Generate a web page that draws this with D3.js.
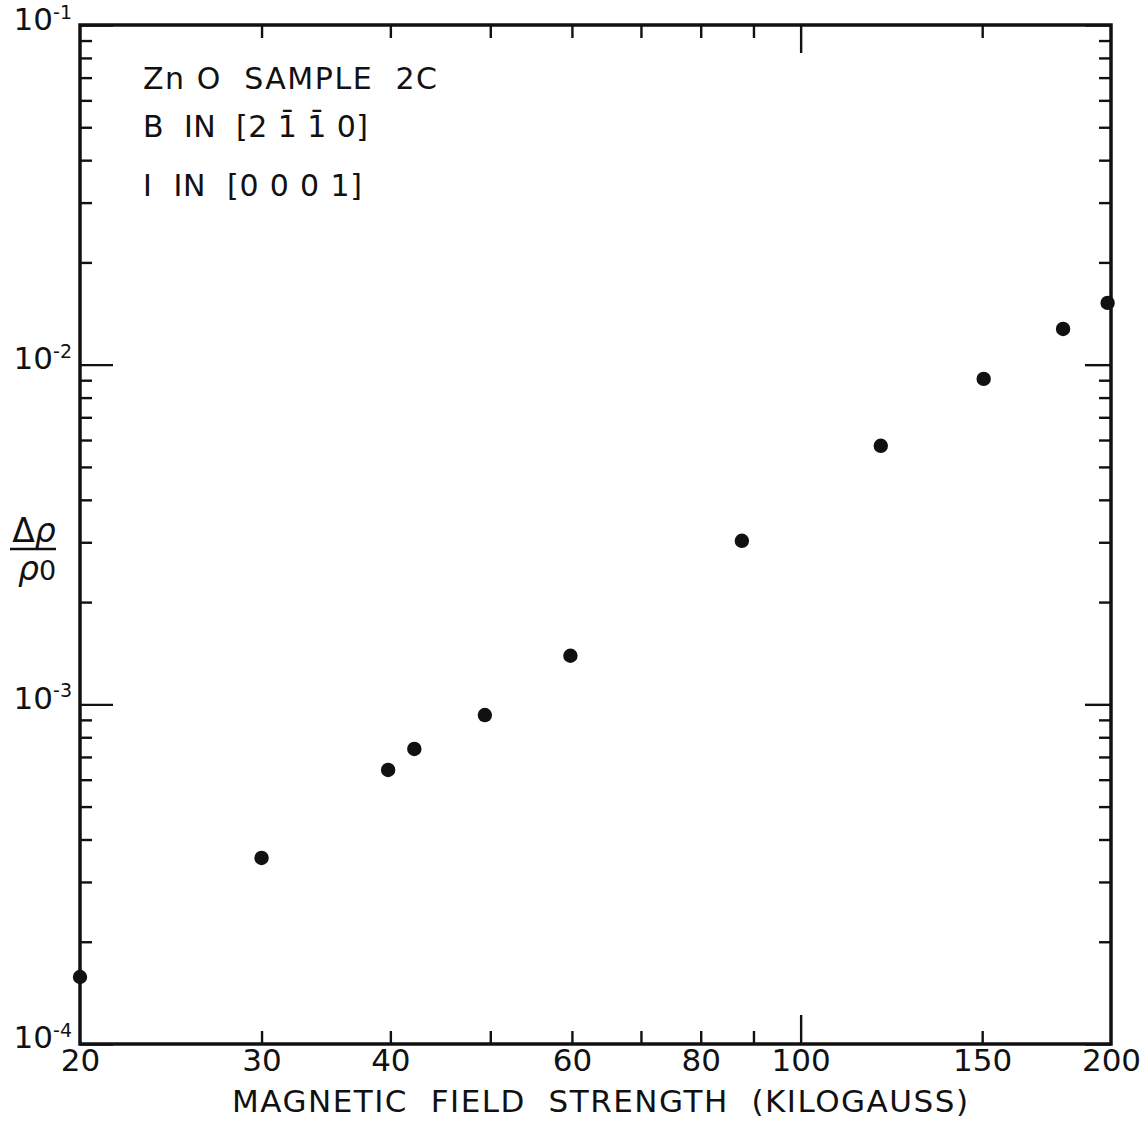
<!DOCTYPE html>
<html>
<head>
<meta charset="utf-8">
<script src="https://cdn.jsdelivr.net/npm/d3@7"></script>
<style>
  body { margin: 0; background: #fff; }
  svg text { font-family: "DejaVu Sans", sans-serif; fill: #111; }
</style>
</head>
<body>
<div id="chart"></div>
<script>
// field strength (kilogauss) and magnetoresistance dRho/Rho0
const fieldKG = [20, 30, 39.8, 42.2, 49.4, 59.8, 87.7, 119.6, 150.5, 179.7, 198.5];
const dRhoOverRho = [1.575e-4, 3.53e-4, 6.41e-4, 7.39e-4, 9.3e-4, 1.39e-3, 3.03e-3, 5.77e-3, 9.08e-3, 1.274e-2, 1.52e-2];

const xMajorTicks = [100];
const xMinorTicks = [30, 40, 50, 60, 70, 80, 90, 150];
const xTickLabels = [20, 30, 40, 60, 80, 100, 150, 200];
const yMajorTicks = [1e-4, 1e-3, 1e-2, 1e-1];
const yMinorTicks = [];
[1e-4, 1e-3, 1e-2].forEach(d => { for (let k = 2; k <= 9; k++) yMinorTicks.push(d * k); });

const annotation = [
  { text: "Zn O  SAMPLE  2C", len: 294 },
  { text: "B  IN  [2 1\u0304 1\u0304 0]", len: 225 },
  { text: "I  IN  [0 0 0 1]", len: 219 }
];

const width = 1142;
const height = 1130;
const mLeft = 80, mRight = 1111, mTop = 25, mBottom = 1044;

const svg = d3.select("#chart").append("svg")
  .attr("width", width)
  .attr("height", height);

const x = d3.scaleLog().domain([20, 200]).range([mLeft, mRight]);
const y = d3.scaleLog().domain([1e-4, 1e-1]).range([mBottom, mTop]);

const clean = g => {
  g.select(".domain").remove();
  g.selectAll("line").attr("stroke", "#111").attr("stroke-width", 2.4);
};

// bottom ticks (inward)
svg.append("g").attr("transform", `translate(0,${mBottom})`)
  .call(d3.axisBottom(x).tickValues(xMinorTicks).tickSize(-13).tickFormat(""))
  .call(clean);
svg.append("g").attr("transform", `translate(0,${mBottom})`)
  .call(d3.axisBottom(x).tickValues(xMajorTicks).tickSize(-29).tickFormat(""))
  .call(clean);
// top ticks (inward)
svg.append("g").attr("transform", `translate(0,${mTop})`)
  .call(d3.axisTop(x).tickValues(xMinorTicks).tickSize(-13).tickFormat(""))
  .call(clean);
svg.append("g").attr("transform", `translate(0,${mTop})`)
  .call(d3.axisTop(x).tickValues(xMajorTicks).tickSize(-28).tickFormat(""))
  .call(clean);

// bottom tick labels
svg.append("g").attr("transform", `translate(0,${mBottom})`)
  .call(d3.axisBottom(x).tickValues(xTickLabels).tickSize(0).tickPadding(5).tickFormat(d => d))
  .call(g => g.select(".domain").remove())
  .selectAll("text")
  .style("font-size", "31px")
  .attr("fill", "#111");

// left / right ticks (inward)
svg.append("g").attr("transform", `translate(${mLeft},0)`)
  .call(d3.axisLeft(y).tickValues(yMinorTicks).tickSize(-12).tickFormat(""))
  .call(clean);
svg.append("g").attr("transform", `translate(${mLeft},0)`)
  .call(d3.axisLeft(y).tickValues(yMajorTicks).tickSize(-33).tickFormat(""))
  .call(clean);
svg.append("g").attr("transform", `translate(${mRight},0)`)
  .call(d3.axisRight(y).tickValues(yMinorTicks).tickSize(-12).tickFormat(""))
  .call(clean);
svg.append("g").attr("transform", `translate(${mRight},0)`)
  .call(d3.axisRight(y).tickValues(yMajorTicks).tickSize(-26).tickFormat(""))
  .call(clean);

// left labels 10^-n
const yLab = svg.append("g").attr("transform", `translate(${mLeft},0)`)
  .call(d3.axisLeft(y).tickValues(yMajorTicks).tickSize(0).tickPadding(8).tickFormat(""))
  .call(g => g.select(".domain").remove());
yLab.selectAll("text")
  .attr("fill", "#111")
  .attr("dy", d => d === 1e-1 ? "0.45em" : "0.38em")
  .each(function (d) {
    const t = d3.select(this);
    t.append("tspan").style("font-size", "31px").text("10");
    t.append("tspan").style("font-size", "19px").attr("dy", "-0.6em")
      .text("-" + Math.round(-Math.log10(d)));
  });

// frame
svg.append("rect")
  .attr("x", mLeft).attr("y", mTop)
  .attr("width", mRight - mLeft).attr("height", mBottom - mTop)
  .attr("fill", "none").attr("stroke", "#111").attr("stroke-width", 3.5);

// points
svg.append("g").selectAll("circle")
  .data(fieldKG.map((f, i) => [f, dRhoOverRho[i]]))
  .enter()
  .append("circle")
  .attr("cx", d => x(d[0]))
  .attr("cy", d => y(d[1]))
  .attr("r", 7.2)
  .attr("fill", "#111");

// annotation
const annY = [89, 137, 196];
svg.append("g").selectAll("text")
  .data(annotation)
  .enter()
  .append("text")
  .attr("x", 143)
  .attr("y", (d, i) => annY[i])
  .attr("textLength", d => d.len)
  .attr("lengthAdjust", "spacing")
  .style("font-size", "30px")
  .style("white-space", "pre")
  .text(d => d.text);

// x axis title
svg.append("text")
  .attr("x", 232).attr("y", 1112)
  .attr("textLength", 736)
  .attr("lengthAdjust", "spacing")
  .style("font-size", "31px")
  .style("white-space", "pre")
  .text("MAGNETIC  FIELD  STRENGTH  (KILOGAUSS)");

// y axis label: delta rho / rho0
const yt = svg.append("g");
yt.append("text").attr("x", 34).attr("y", 542).attr("text-anchor", "middle")
  .style("font-size", "33px").html('\u0394<tspan font-style="italic">\u03c1</tspan>');
yt.append("line").attr("x1", 10).attr("x2", 56).attr("y1", 549).attr("y2", 549)
  .attr("stroke", "#111").attr("stroke-width", 2.4);
yt.append("text").attr("x", 37).attr("y", 580).attr("text-anchor", "middle")
  .style("font-size", "33px").html('<tspan font-style="italic">\u03c1</tspan><tspan font-size="27px">0</tspan>');
</script>
</body>
</html>
